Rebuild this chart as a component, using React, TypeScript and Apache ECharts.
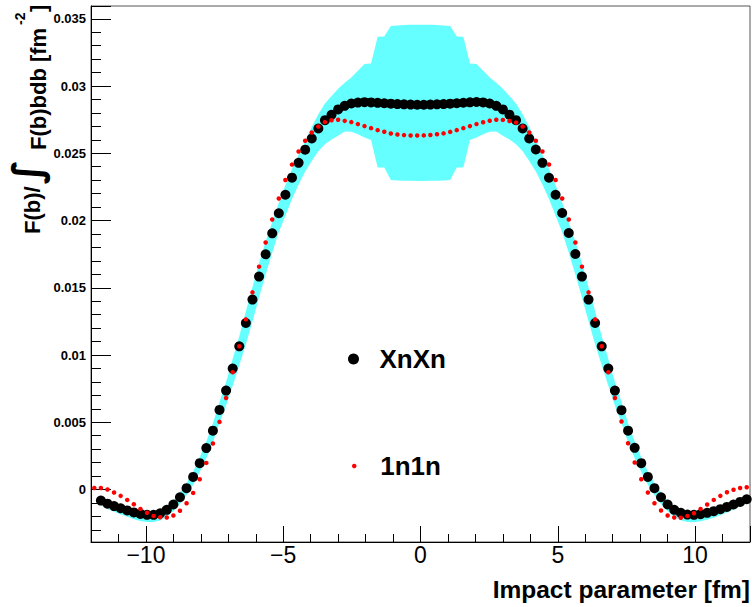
import React, { useEffect, useRef } from 'react';
import * as echarts from 'echarts';

const FONT = '"Liberation Sans", Arial, Helvetica, sans-serif';

// Histogram binning: 100 bins from -12 to 12 fm
const BIN_LOW = -12;
const BIN_WIDTH = 0.24;
const XNXN_FIRST_BIN = 1; // the XnXn histogram has no marker in the first bin

// XnXn: F(b)/∫F(b)bdb, bins 1..99
const xnxnValues = [
  -0.00082, -0.00105, -0.00123, -0.00139, -0.00155, -0.0017, -0.00181, -0.00188, -0.00188, -0.00177,
  -0.00151, -0.00111, -0.00057, 0.0001, 0.00094, 0.00196, 0.00308, 0.00438, 0.00592, 0.00736,
  0.00899, 0.01065, 0.01238, 0.01412, 0.01583, 0.01749, 0.01905, 0.02054, 0.02192, 0.02319,
  0.02429, 0.02527, 0.0261, 0.02684, 0.02746, 0.02786, 0.02826, 0.02853, 0.0287, 0.02877,
  0.0288, 0.02878, 0.02875, 0.02872, 0.02869, 0.02866, 0.02864, 0.02862, 0.02861,
  0.02861, 0.02862, 0.02864, 0.02866, 0.02869, 0.02872, 0.02876, 0.02879, 0.02881, 0.02878,
  0.0287, 0.02853, 0.02826, 0.02787, 0.02746, 0.02684, 0.0261, 0.02528, 0.02429, 0.02318,
  0.02192, 0.02056, 0.01907, 0.01751, 0.01583, 0.01412, 0.01238, 0.01065, 0.00899, 0.00736,
  0.0059, 0.00438, 0.0031, 0.00196, 0.00094, 0.0001, -0.00057, -0.00111, -0.00151, -0.00173,
  -0.00186, -0.00188, -0.00183, -0.00173, -0.00161, -0.00146, -0.00129, -0.00111, -0.00092, -0.00072,
];

// 1n1n: bins 0..99
const oneNoneNValues = [
  0.00012, 0.00012, 0.0, -0.00022, -0.00047, -0.00077, -0.00109, -0.00144, -0.00173, -0.00196,
  -0.00206, -0.00208, -0.00193, -0.00158, -0.00102, -0.00025, 0.00077, 0.00198, 0.00342, 0.00503,
  0.00681, 0.00872, 0.01065, 0.01265, 0.01466, 0.01657, 0.01837, 0.02008, 0.02164, 0.02301,
  0.02416, 0.02513, 0.02593, 0.02655, 0.02699, 0.02732, 0.02746, 0.02749, 0.02741, 0.02732,
  0.02717, 0.02702, 0.02687, 0.02672, 0.0266, 0.02647, 0.0264, 0.02635, 0.02632, 0.02632,
  0.02633, 0.02636, 0.02641, 0.02648, 0.02659, 0.02672, 0.02687, 0.02702, 0.02717, 0.02731,
  0.02742, 0.02749, 0.02748, 0.0274, 0.02728, 0.02699, 0.02655, 0.02593, 0.02513, 0.02417,
  0.02301, 0.02164, 0.02008, 0.01837, 0.01657, 0.01466, 0.01265, 0.01065, 0.00872, 0.00681,
  0.00506, 0.00344, 0.00201, 0.00077, -0.00022, -0.00102, -0.00156, -0.00193, -0.00208, -0.0021,
  -0.00196, -0.00176, -0.00144, -0.00111, -0.00077, -0.00047, -0.0002, -0.00002, 0.00012, 0.00017,
];

// Uncertainty band (same bins as XnXn)
const bandUpper = [
  -0.00062, -0.00085, -0.00103, -0.00119, -0.00135, -0.0015, -0.00161, -0.00168, -0.00168, -0.00157,
  -0.00128, -0.00083, -0.00022, 0.00048, 0.00134, 0.0024, 0.00358, 0.00492, 0.0065, 0.008,
  0.0097, 0.0114, 0.01325, 0.01505, 0.0168, 0.01845, 0.0199, 0.02132, 0.02262, 0.02384,
  0.02488, 0.0259, 0.02695, 0.0279, 0.0287, 0.02925, 0.0298, 0.03025, 0.03063, 0.03113,
  0.03163, 0.03167, 0.03366, 0.03368, 0.03447, 0.0345, 0.03453, 0.03455, 0.03456,
  0.03456, 0.03455, 0.03453, 0.0345, 0.03447, 0.03368, 0.03366, 0.03167, 0.03163, 0.03113,
  0.03063, 0.03025, 0.0298, 0.02925, 0.0287, 0.0279, 0.02695, 0.0259, 0.02488, 0.02384,
  0.02262, 0.02132, 0.0199, 0.01845, 0.0168, 0.01505, 0.01325, 0.0114, 0.0097, 0.008,
  0.0065, 0.00492, 0.00358, 0.0024, 0.00134, 0.00048, -0.00022, -0.00083, -0.00128, -0.00153,
  -0.00166, -0.00168, -0.00163, -0.00153, -0.00141, -0.00126, -0.00109, -0.00091, -0.00072, -0.00052,
];
const bandLower = [
  -0.00112, -0.00145, -0.00165, -0.00185, -0.00203, -0.0022, -0.00233, -0.00242, -0.00242, -0.0023,
  -0.00203, -0.00162, -0.00108, -0.00042, 0.00036, 0.0013, 0.00232, 0.00352, 0.00494, 0.00624,
  0.00772, 0.00925, 0.0108, 0.0125, 0.01428, 0.01598, 0.0176, 0.01912, 0.02035, 0.0216,
  0.02268, 0.02365, 0.02442, 0.02515, 0.02568, 0.02603, 0.0263, 0.02662, 0.0266, 0.02642,
  0.02618, 0.02598, 0.02395, 0.02394, 0.02302, 0.02298, 0.02296, 0.02295, 0.02294,
  0.02294, 0.02295, 0.02296, 0.02298, 0.02302, 0.02394, 0.02395, 0.02598, 0.02618, 0.02642,
  0.0266, 0.02662, 0.0263, 0.02603, 0.02568, 0.02515, 0.02442, 0.02365, 0.02268, 0.0216,
  0.02035, 0.01912, 0.0176, 0.01598, 0.01428, 0.0125, 0.0108, 0.00925, 0.00772, 0.00624,
  0.00494, 0.00352, 0.00232, 0.0013, 0.00036, -0.00042, -0.00108, -0.00162, -0.00203, -0.00228,
  -0.00241, -0.00243, -0.00236, -0.00224, -0.0021, -0.00192, -0.0017, -0.0015, -0.00125, -0.00102,
];

const seriesNames = ['XnXn', '1n1n'];

function binCenter(i: number): number {
  return Math.round((BIN_LOW + BIN_WIDTH * (i + 0.5)) * 100) / 100;
}

export default function App() {
  const ref = useRef<HTMLDivElement>(null);

  useEffect(() => {
    if (!ref.current) return;
    const chart = echarts.init(ref.current, null, { renderer: 'svg' });

    const xnxnData = xnxnValues.map((v, i) => [binCenter(i + XNXN_FIRST_BIN), v]);
    const oneNData = oneNoneNValues.map((v, i) => [binCenter(i), v]);
    const bandData = bandUpper.map((u, i) => [binCenter(i + XNXN_FIRST_BIN), bandLower[i], u]);

    const rot = Math.PI / 2;
    const titleFont = `bold 22px ${FONT}`;
    const rotText = (text: string, x: number, y: number, font: string, align = 'left') => ({
      type: 'text',
      x,
      y,
      rotation: rot,
      style: {
        text,
        font,
        fill: '#000',
        align,
        verticalAlign: 'middle',
        textAlign: align,
        textVerticalAlign: 'middle',
      },
    });

    chart.setOption({
      animation: false,
      backgroundColor: '#ffffff',
      grid: {
        left: 91,
        right: 2,
        top: 6,
        bottom: 65,
        show: true,
        borderColor: '#555555',
        borderWidth: 1,
        backgroundColor: 'transparent',
      },
      xAxis: {
        type: 'value',
        min: -12,
        max: 12,
        splitNumber: 5,
        minInterval: 5,
        maxInterval: 5,
        axisLine: { show: true, onZero: false, lineStyle: { color: '#000', width: 1 } },
        axisTick: { show: true, inside: true, length: 16, lineStyle: { color: '#000', width: 1 } },
        minorTick: { show: true, splitNumber: 5, length: 8, lineStyle: { color: '#000', width: 1 } },
        splitLine: { show: false },
        minorSplitLine: { show: false },
        axisLabel: {
          show: true,
          showMinLabel: false,
          showMaxLabel: false,
          margin: 1,
          color: '#000',
          fontFamily: FONT,
          fontSize: 23,
          formatter: (v: number) => (v < 0 ? '\u2212' + Math.abs(v) : String(v)),
        },
      },
      yAxis: {
        type: 'value',
        min: -0.0039,
        max: 0.03595,
        splitNumber: 8,
        minInterval: 0.005,
        maxInterval: 0.005,
        axisLine: { show: true, onZero: false, lineStyle: { color: '#000', width: 1 } },
        axisTick: { show: true, inside: true, length: 20, lineStyle: { color: '#000', width: 1 } },
        minorTick: { show: true, splitNumber: 5, length: 10, lineStyle: { color: '#000', width: 1 } },
        splitLine: { show: false },
        minorSplitLine: { show: false },
        axisLabel: {
          show: true,
          showMinLabel: false,
          showMaxLabel: false,
          margin: 5,
          color: '#000',
          fontFamily: FONT,
          fontWeight: 'bold',
          fontSize: 13,
          formatter: (v: number) => {
            const r = Math.round(v * 1e6) / 1e6;
            return r === 0 ? '0' : String(r);
          },
        },
      },
      legend: [
        {
          data: [{ name: seriesNames[0], icon: 'circle', itemStyle: { opacity: 1 } }],
          left: 348,
          top: 346,
          padding: 0,
          itemWidth: 42,
          itemHeight: 11,
          selectedMode: false,
          textStyle: { fontFamily: FONT, fontSize: 26, fontWeight: 'bold', color: '#000' },
        },
        {
          data: [{ name: seriesNames[1], icon: 'circle', itemStyle: { opacity: 1 } }],
          left: 352,
          top: 453,
          padding: 0,
          itemWidth: 42,
          itemHeight: 4.5,
          selectedMode: false,
          textStyle: { fontFamily: FONT, fontSize: 26, fontWeight: 'bold', color: '#000' },
        },
      ],
      graphic: [
        {
          type: 'text',
          right: 2,
          top: 577,
          style: { text: 'Impact parameter [fm]', font: `bold 24.5px ${FONT}`, fill: '#000' },
        },
        rotText('F(b)/', 32, 234, titleFont),
        rotText('\u222B', 27, 172, `bold 40px "DejaVu Sans", ${FONT}`, 'center'),
        rotText('F(b)bdb [fm', 38, 150, titleFont),
        rotText('-2', 20, 25, `bold 14px ${FONT}`),
        rotText(']', 38, 12, titleFont),
      ],
      series: [
        {
          name: 'band',
          type: 'custom',
          silent: true,
          z: 1,
          data: bandData,
          encode: { x: 0, y: [1, 2] },
          renderItem: (params: any, api: any) => {
            if (params.dataIndex !== 0) return null;
            const pts: number[][] = [];
            for (let i = 0; i < bandData.length; i++) {
              pts.push(api.coord([bandData[i][0], bandData[i][2]]));
            }
            for (let i = bandData.length - 1; i >= 0; i--) {
              pts.push(api.coord([bandData[i][0], bandData[i][1]]));
            }
            return {
              type: 'polygon',
              shape: { points: pts },
              style: { fill: '#66ffff', stroke: 'none' },
            };
          },
        },
        {
          name: seriesNames[0],
          type: 'scatter',
          z: 3,
          symbol: 'circle',
          symbolSize: 10,
          itemStyle: { color: '#000000', opacity: 1 },
          data: xnxnData,
        },
        {
          name: seriesNames[1],
          type: 'scatter',
          z: 4,
          symbol: 'circle',
          symbolSize: 4.5,
          itemStyle: { color: '#ff0000', opacity: 1 },
          data: oneNData,
        },
      ],
    });

    return () => {
      chart.dispose();
    };
  }, []);

  return (
    <div
      ref={ref}
      style={{ position: 'fixed', left: 0, top: 0, width: 752, height: 607, background: '#fff' }}
    />
  );
}
